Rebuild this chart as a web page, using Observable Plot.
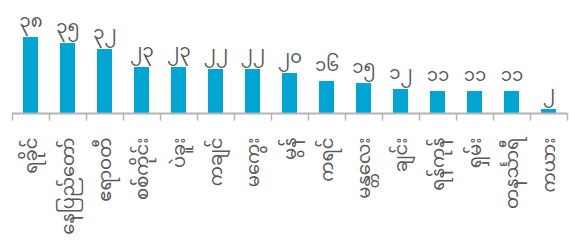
<!DOCTYPE html>
<html>
<head>
<meta charset="utf-8">
<script src="https://cdn.jsdelivr.net/npm/d3@7"></script>
<script src="https://cdn.jsdelivr.net/npm/@observablehq/plot@0.6"></script>
<style>
  html, body { margin: 0; padding: 0; background: #fff; }
  #chart { width: 572px; height: 250px; overflow: hidden; }
</style>
</head>
<body>
<div id="chart"></div>
<script>
const categories = ["ရခိုင်", "နေပြည်တော်", "ဧရာဝတီ", "စစ်ကိုင်း", "ပဲခူး", "ကချင်", "မကွေး", "မွန်", "ကရင်", "မန္တလေး", "ချင်း", "ရန်ကုန်", "ရှမ်း", "တနင်္သာရီ", "ကယား"];
const values = [38, 35, 32, 23, 23, 22, 22, 20, 16, 15, 12, 11, 11, 11, 2];
const valueLabels = ["၃၈", "၃၅", "၃၂", "၂၃", "၂၃", "၂၂", "၂၂", "၂၀", "၁၆", "၁၅", "၁၂", "၁၁", "၁၁", "၁၁", "၂"];

const data = categories.map((c, i) => ({name: c, value: values[i], label: valueLabels[i]}));
const font = "'Noto Sans Myanmar', Padauk, 'Myanmar Text', 'Noto Sans', sans-serif";
const grey = "#b4b4b4";
const textColor = "#595959";
const half = 18.5;

const chart = Plot.plot({
  width: 572,
  height: 250,
  marginLeft: 12,
  marginRight: 5,
  marginTop: 37,
  marginBottom: 137,
  style: {fontFamily: font, background: "#fff"},
  x: {domain: categories, paddingInner: 0.6, paddingOuter: 0.3, axis: null},
  y: {domain: [0, 38], axis: null},
  marks: [
    Plot.barY(data, {x: "name", y: "value", fill: "#00a5d3"}),
    Plot.ruleY([0], {stroke: grey, strokeWidth: 2}),
    Plot.ruleX(categories, {x: d => d, dx: -half, y1: 0, y2: -3.8, stroke: grey, strokeWidth: 1.5}),
    Plot.ruleX([categories[categories.length - 1]], {x: d => d, dx: half, y1: 0, y2: -3.8, stroke: grey, strokeWidth: 1.5}),
    Plot.axisX({tickRotate: -90, tickSize: 0, tickPadding: 24, fontSize: 18, fill: textColor, fontFamily: font, label: null}),
    Plot.text(data, {x: "name", y: "value", text: "label", dy: -16, fontSize: 18, fill: textColor, fontFamily: font})
  ]
});
document.getElementById("chart").appendChild(chart);
</script>
</body>
</html>
